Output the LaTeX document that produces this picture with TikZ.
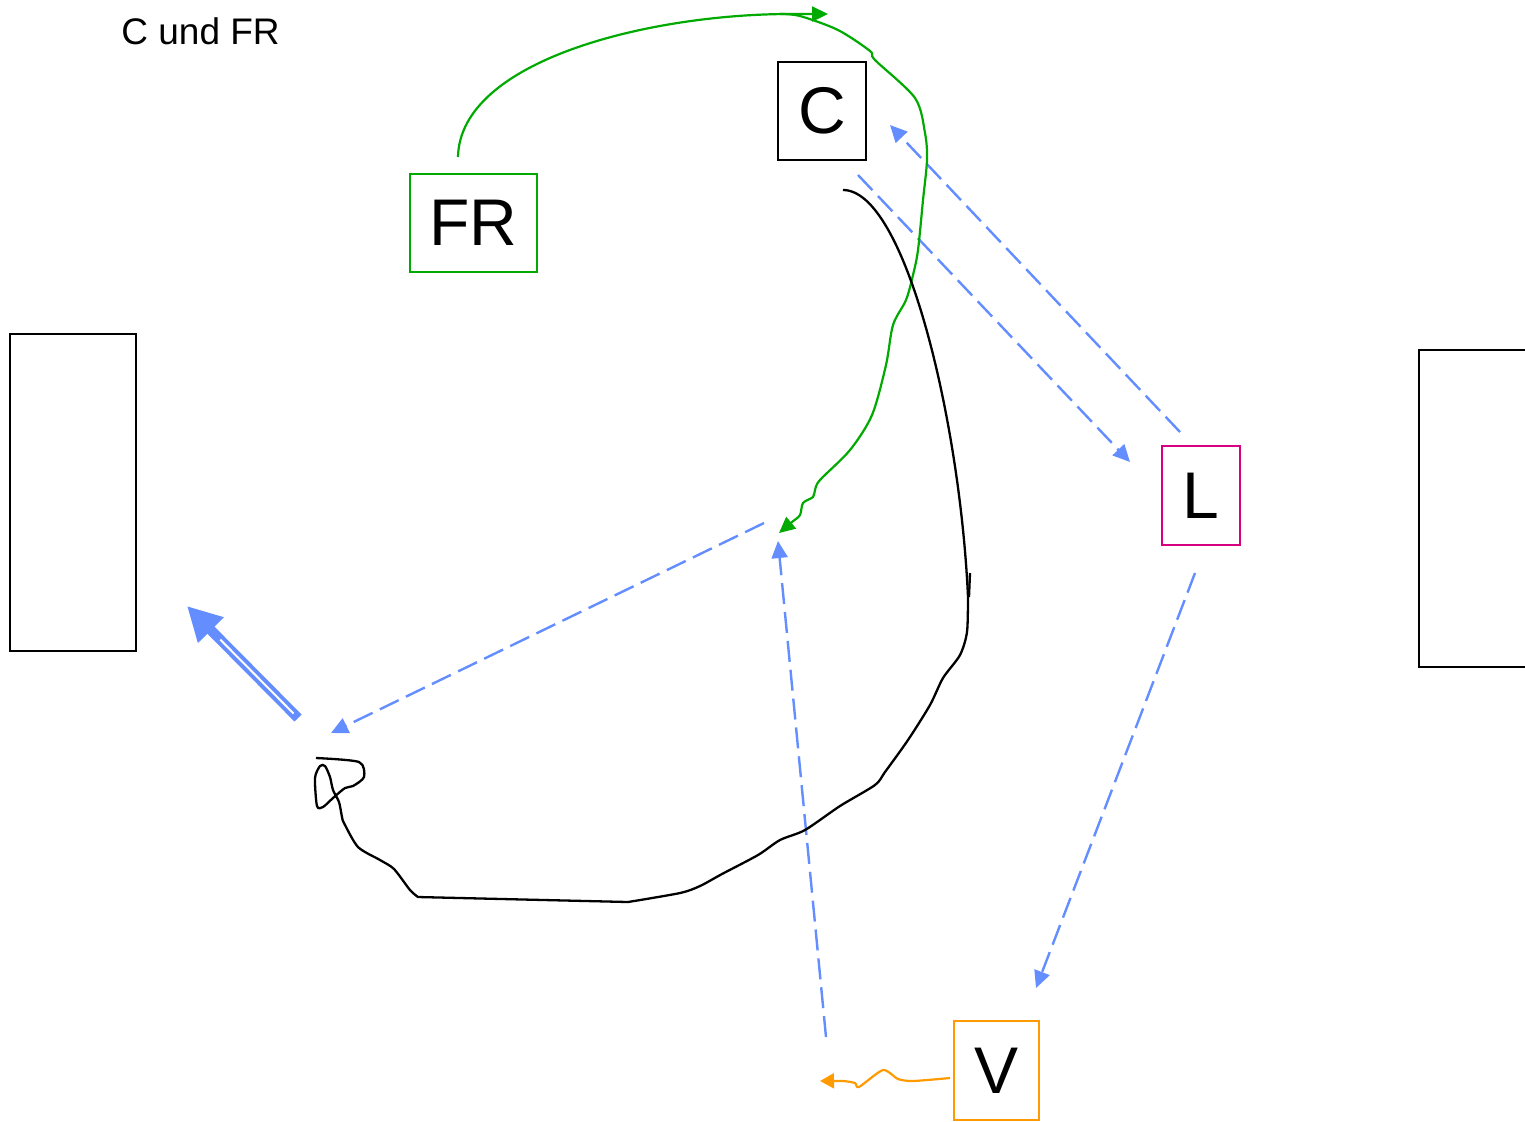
\documentclass[tikz,border=0pt]{standalone}
\usepackage{fontspec}
\setmainfont{Liberation Sans}
\usetikzlibrary{arrows.meta,calc}
\definecolor{myblue}{RGB}{100,142,255}
\definecolor{mygreen}{RGB}{0,170,0}
\definecolor{mymag}{RGB}{214,0,128}
\definecolor{myorange}{RGB}{255,155,0}
\tikzset{
  box/.style={draw, line width=1pt, inner sep=0pt, font=\fontsize{33}{40}\selectfont},
  bluedash/.style={myblue, line width=1.2pt, dash pattern=on 10.5pt off 4pt, -{Triangle[length=8.5pt,width=8pt]}},
  greenline/.style={mygreen, line width=1.1pt, -{Triangle[length=8pt,width=7.5pt]}},
  blackline/.style={black, line width=1.15pt},
  orangeline/.style={myorange, line width=1.1pt, -{Triangle[length=7pt,width=7.5pt]}},
}
\begin{document}
\begin{tikzpicture}[x=0.5pt,y=-0.5pt]
\useasboundingbox[fill=white] (0,0) rectangle (1525,1121);
% title
\node[anchor=base west, inner sep=0pt, font=\fontsize{18.5}{22}\selectfont] (title) at (121,44) {C und FR};
% boxes
\node[box, minimum width=44pt, minimum height=49pt] (C) at (822,111) {C};
\node[box, draw=mygreen, minimum width=63.5pt, minimum height=49pt] (FR) at (473.5,223) {FR};
\node[box, draw=mymag, minimum width=39pt, minimum height=49.5pt] (L) at (1201,495.5) {L};
\node[box, draw=myorange, minimum width=42.5pt, minimum height=49.5pt] (V) at (996.5,1070.5) {V};
\node[draw, line width=1pt, inner sep=0pt, minimum width=63pt, minimum height=158.5pt] (left) at (73,492.5) {};
\node[draw, line width=1pt, inner sep=0pt, minimum width=63pt, minimum height=158.5pt] (right) at (1481.5,508.5) {};
% coordinates
\coordinate (clA) at (858,175);  \coordinate (clB) at (1130,462);
\coordinate (lcA) at (1180,432); \coordinate (lcB) at (890,125);
\coordinate (lvA) at (1195,573); \coordinate (lvB) at (1036,988);
\coordinate (vmA) at (826,1037); \coordinate (vmB) at (778,541);
\coordinate (msA) at (764,523);  \coordinate (msB) at (331,733);
\coordinate (frA) at (458,157);  \coordinate (frB) at (828,14);
\coordinate (bA) at (843,190);   \coordinate (bB) at (968,597);
\coordinate (thA) at (298,718);  \coordinate (thB) at (187,606);
\coordinate (oA) at (950,1078);
% blue dashed
\draw[bluedash] (clA) -- (clB);
\draw[bluedash] (lcA) -- (lcB);
\draw[bluedash] (lvA) -- (lvB);
\draw[bluedash] (vmA) -- (vmB);
\draw[bluedash] (msA) -- (msB);
% thick blue arrow
\draw[myblue, line width=5pt, -{Triangle[length=17pt,width=17pt]}] (thA) -- (thB);
\draw[white, line width=1pt] ($(thA)!0.04!(thB)$) -- ($(thA)!0.7!(thB)$);
% green
\draw[greenline] (frA) .. controls (460,60) and (650,14) .. (790,14) -- (frB);
\draw[greenline] plot[smooth, tension=0.5] coordinates {(780,14) (800,16) (838,30) (870,51) (875,60) (915,98) (925,133) (927,160) (923,200) (918,250) (913,275) (906,300) (893,325) (886,365) (872,415) (850,450) (820,480) (815,490) (813,497) (803,503) (800,515) (792,522) (779,533)};
% black
\draw[blackline] (bA) .. controls (905,190) and (960,420) .. (bB);
\draw[blackline] (970,573) -- (969,597);
\draw[blackline] plot[smooth, tension=0.45] coordinates {(bB) (967,632) (960,655) (943,678) (930,705) (908,740) (885,772) (875,785) (840,806) (805,830) (780,840) (758,855) (722,874) (700,886) (680,893) (628,902)}
  -- plot[smooth, tension=0.45] coordinates {(418,897) (410,890) (394,869) (380,860) (358,847) (344,823) (342,817) (339,802) (333,790) (330,777) (325,766) (320,766) (315,778) (317,806) (323,807) (333,798) (345,788) (353,786) (364,777) (359,762) (316,758)};
% orange
\draw[orangeline] plot[smooth, tension=0.4] coordinates {(oA) (913,1081) (898,1079) (883,1070) (859,1087) (855,1083) (843,1081) (820,1081)};
\end{tikzpicture}
\end{document}
